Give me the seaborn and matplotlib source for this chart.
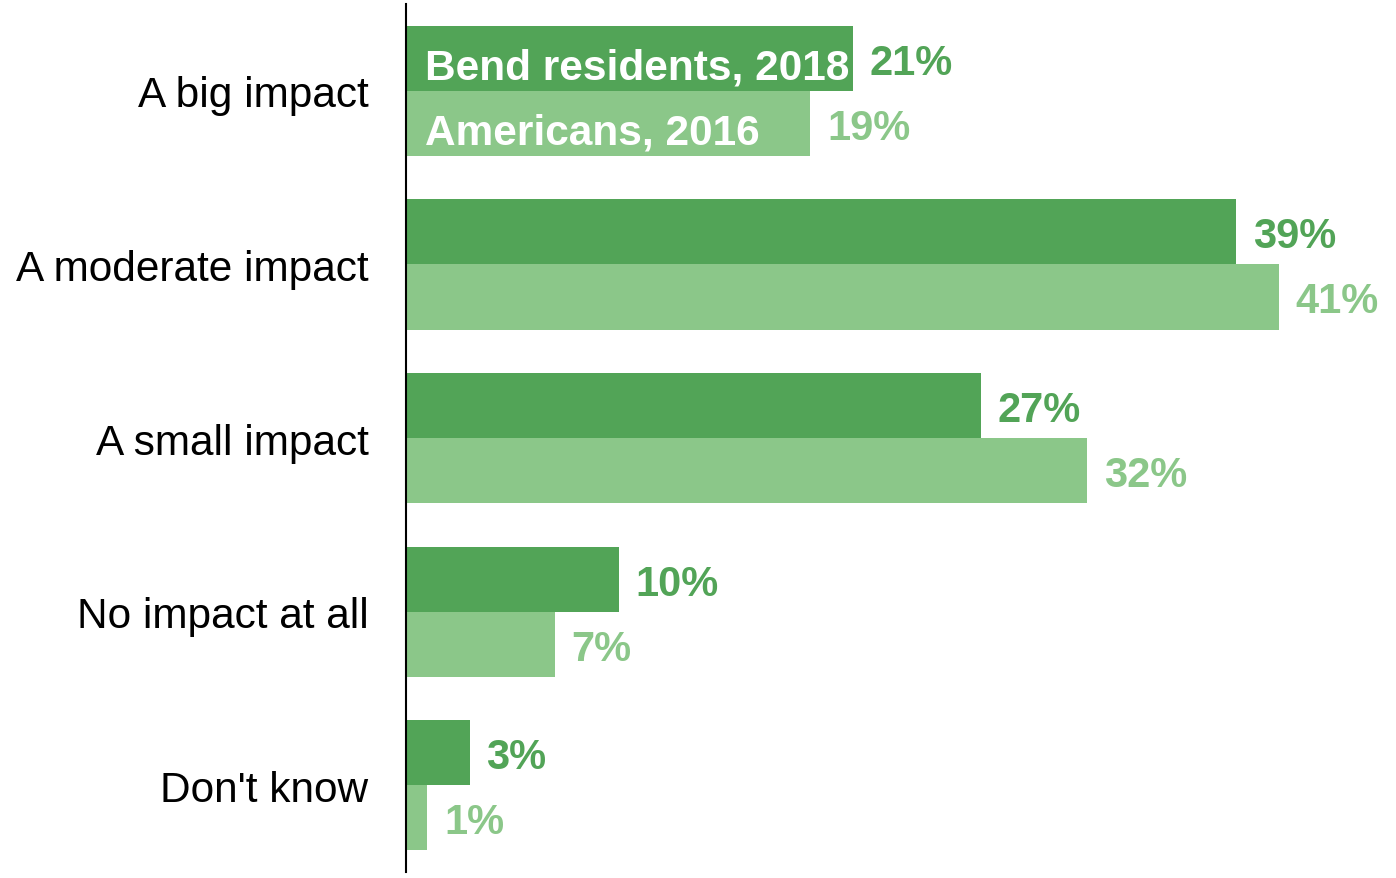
import pandas as pd
import matplotlib
matplotlib.use("Agg")
import matplotlib.pyplot as plt
import seaborn as sns

categories = ["A big impact", "A moderate impact", "A small impact",
              "No impact at all", "Don't know"]
series = ["Bend residents, 2018", "Americans, 2016"]
bend_2018 = [21, 39, 27, 10, 3]
americans_2016 = [19, 41, 32, 7, 1]
colors = ["#52a457", "#8bc789"]

sns.set_style("white")
plt.rcParams["font.family"] = ["Liberation Sans", "DejaVu Sans"]
plt.rcParams["text.color"] = "black"
plt.rcParams["ytick.color"] = "black"
plt.rcParams["ytick.labelcolor"] = "black"

df = pd.DataFrame({
    "category": categories * 2,
    "series": [series[0]] * len(categories) + [series[1]] * len(categories),
    "value": bend_2018 + americans_2016,
})

fig = plt.figure(figsize=(13.96, 8.79), dpi=100)
ax = fig.add_axes([0.2908, 0.0068, 0.7092, 0.9875])

sns.barplot(
    data=df, y="category", x="value", hue="series", order=categories,
    hue_order=series, palette=colors, saturation=1, width=0.75,
    linewidth=0, orient="h", legend=False, ax=ax,
)

for container, color in zip(ax.containers, colors):
    labels = ax.bar_label(container,
                          labels=[f"{v:g}%" for v in container.datavalues],
                          padding=12, fontsize=30, fontweight="bold",
                          color=color)
    for t in labels:
        t.set_va("center_baseline")

# series names written inside the first bar of each group
for container, name in zip(ax.containers, series):
    patch = container.patches[0]
    ax.annotate(name, (0, patch.get_y() + patch.get_height() / 2),
                xytext=(14, -3.5), textcoords="offset points",
                color="white", fontsize=30.5, fontweight="bold",
                ha="left", va="center_baseline")

ax.set_xlim(0, 46.5)
ax.set_ylim(4.5, -0.5)
ax.set_xlabel("")
ax.set_ylabel("")
ax.set_xticks([])
ax.tick_params(axis="y", length=0, pad=27, labelsize=30.5, labelcolor="black")
for side in ["top", "right", "bottom"]:
    ax.spines[side].set_visible(False)
ax.spines["left"].set_color("black")
ax.spines["left"].set_linewidth(1.5)

fig.savefig("out.png", dpi=100)
